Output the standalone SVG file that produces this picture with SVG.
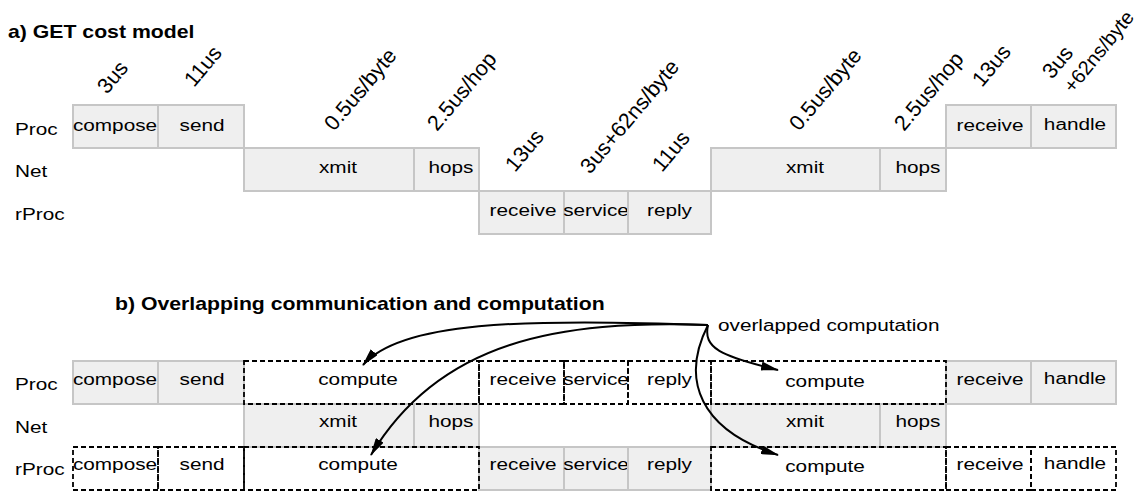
<svg xmlns="http://www.w3.org/2000/svg" width="1140" height="491" viewBox="0 0 1140 491">
<style>
.box{fill:#efefef;stroke:#c6c6c6;stroke-width:2}
.dash{fill:none;stroke:#000;stroke-width:1.8;stroke-dasharray:5,3}
text{font-family:"Liberation Sans",Arial,Helvetica,sans-serif;fill:#000}
.t{font-size:17.3px;text-anchor:middle}
.l{font-size:17.3px;text-anchor:start}
.title{font-size:17.7px;font-weight:bold;text-anchor:start}
.r{font-size:21.5px;text-anchor:start}
.conn{fill:none;stroke:#000;stroke-width:2;marker-end:url(#ah)}
</style>
<defs>
<marker id="ah" viewBox="0 0 18 9" refX="17" refY="4.5" markerWidth="18" markerHeight="9" markerUnits="userSpaceOnUse" orient="auto">
<path d="M0,0 L18,4.5 L0,9 Z" fill="#000"/>
</marker>
</defs>

<!-- Part a -->
<text class="title" transform="translate(8,37.5) scale(1.2,1)">a) GET cost model</text>
<text class="l" transform="translate(15,135) scale(1.2,1)">Proc</text>
<text class="l" transform="translate(15,177) scale(1.2,1)">Net</text>
<text class="l" transform="translate(15,220) scale(1.2,1)">rProc</text>

<g id="a-labels">
<text class="r" transform="translate(107,95) rotate(-50)">3us</text>
<text class="r" transform="translate(194,88) rotate(-50)">11us</text>
<text class="r" transform="translate(334,132) rotate(-50)">0.5us/byte</text>
<text class="r" transform="translate(437,132) rotate(-50)">2.5us/hop</text>
<text class="r" transform="translate(515,173) rotate(-50)">13us</text>
<text class="r" transform="translate(590,175) rotate(-50)">3us+62ns/byte</text>
<text class="r" transform="translate(662,173) rotate(-50)">11us</text>
<text class="r" transform="translate(799,132) rotate(-50)">0.5us/byte</text>
<text class="r" transform="translate(904,132) rotate(-50)">2.5us/hop</text>
<text class="r" transform="translate(982,88) rotate(-50)">13us</text>
<text class="r" transform="translate(1052,80) rotate(-50)">3us</text>
<text class="r" style="font-size:20px" transform="translate(1073,94) rotate(-51)">+62ns/byte</text>
</g>

<g id="a-proc-compose"><rect class="box" x="73" y="105" width="85" height="43"/><text class="t" transform="translate(115,131) scale(1.2,1)">compose</text></g>
<g id="a-proc-send"><rect class="box" x="158" y="105" width="86" height="43"/><text class="t" transform="translate(202,131) scale(1.2,1)">send</text></g>
<g id="a-net-xmit"><rect class="box" x="244" y="148" width="170" height="43"/><text class="t" transform="translate(338,173) scale(1.2,1)">xmit</text></g>
<g id="a-net-hops"><rect class="box" x="414" y="148" width="65" height="43"/><text class="t" transform="translate(451,173) scale(1.2,1)">hops</text></g>
<g id="a-rproc-receive"><rect class="box" x="479" y="191" width="85" height="43"/><text class="t" transform="translate(523,216) scale(1.2,1)">receive</text></g>
<g id="a-rproc-service"><rect class="box" x="564" y="191" width="64" height="43"/><text class="t" transform="translate(596,216) scale(1.2,1)">service</text></g>
<g id="a-rproc-reply"><rect class="box" x="628" y="191" width="83" height="43"/><text class="t" transform="translate(669.5,216) scale(1.2,1)">reply</text></g>
<g id="a-net-xmit2"><rect class="box" x="711" y="148" width="169" height="43"/><text class="t" transform="translate(805,173) scale(1.2,1)">xmit</text></g>
<g id="a-net-hops2"><rect class="box" x="880" y="148" width="66" height="43"/><text class="t" transform="translate(918,173) scale(1.2,1)">hops</text></g>
<g id="a-proc-receive"><rect class="box" x="946" y="105" width="85" height="43"/><text class="t" transform="translate(990,131) scale(1.2,1)">receive</text></g>
<g id="a-proc-handle"><rect class="box" x="1031" y="105" width="85" height="43"/><text class="t" transform="translate(1075,129.5) scale(1.2,1)">handle</text></g>

<!-- Part b -->
<text class="title" transform="translate(115,310) scale(1.2,1)">b) Overlapping communication and computation</text>
<text class="l" transform="translate(15,390) scale(1.2,1)">Proc</text>
<text class="l" transform="translate(15,433) scale(1.2,1)">Net</text>
<text class="l" transform="translate(15,475) scale(1.2,1)">rProc</text>

<g id="b-proc-compose"><rect class="box" x="73" y="361" width="85" height="43"/><text class="t" transform="translate(115,385) scale(1.2,1)">compose</text></g>
<g id="b-proc-send"><rect class="box" x="158" y="361" width="86" height="43"/><text class="t" transform="translate(202,385) scale(1.2,1)">send</text></g>
<g id="b-net-xmit"><rect class="box" x="244" y="404" width="170" height="43"/><text class="t" transform="translate(338,427) scale(1.2,1)">xmit</text></g>
<g id="b-net-hops"><rect class="box" x="414" y="404" width="65" height="43"/><text class="t" transform="translate(451,427) scale(1.2,1)">hops</text></g>
<g id="b-rproc-receive"><rect class="box" x="479" y="447" width="85" height="43"/><text class="t" transform="translate(523,470) scale(1.2,1)">receive</text></g>
<g id="b-rproc-service"><rect class="box" x="564" y="447" width="64" height="43"/><text class="t" transform="translate(596,470) scale(1.2,1)">service</text></g>
<g id="b-rproc-reply"><rect class="box" x="628" y="447" width="83" height="43"/><text class="t" transform="translate(669.5,470) scale(1.2,1)">reply</text></g>
<g id="b-net-xmit2"><rect class="box" x="711" y="404" width="169" height="43"/><text class="t" transform="translate(805,427) scale(1.2,1)">xmit</text></g>
<g id="b-net-hops2"><rect class="box" x="880" y="404" width="66" height="43"/><text class="t" transform="translate(918,427) scale(1.2,1)">hops</text></g>
<g id="b-proc-receive"><rect class="box" x="946" y="361" width="85" height="43"/><text class="t" transform="translate(990,385) scale(1.2,1)">receive</text></g>
<g id="b-proc-handle"><rect class="box" x="1031" y="361" width="85" height="43"/><text class="t" transform="translate(1075,383.5) scale(1.2,1)">handle</text></g>

<g id="b-proc-compute"><rect class="dash" x="244" y="361" width="235" height="43"/><text class="t" transform="translate(358,385) scale(1.2,1)">compute</text></g>
<g id="b-proc-receive-o"><rect class="dash" x="479" y="361" width="85" height="43"/><text class="t" transform="translate(523,385) scale(1.2,1)">receive</text></g>
<g id="b-proc-service-o"><rect class="dash" x="564" y="361" width="64" height="43"/><text class="t" transform="translate(596,385) scale(1.2,1)">service</text></g>
<g id="b-proc-reply-o"><rect class="dash" x="628" y="361" width="83" height="43"/><text class="t" transform="translate(669.5,385) scale(1.2,1)">reply</text></g>
<g id="b-proc-compute2"><rect class="dash" x="711" y="361" width="235" height="43"/><text class="t" transform="translate(825,387) scale(1.2,1)">compute</text></g>

<g id="b-rproc-compose"><rect class="dash" x="73" y="447" width="85" height="43"/><text class="t" transform="translate(115,470) scale(1.2,1)">compose</text></g>
<g id="b-rproc-send"><rect class="dash" x="158" y="447" width="86" height="43"/><text class="t" transform="translate(202,470) scale(1.2,1)">send</text></g>
<g id="b-rproc-compute"><rect class="dash" x="244" y="447" width="235" height="43"/><text class="t" transform="translate(358,470) scale(1.2,1)">compute</text></g>
<g id="b-rproc-compute2"><rect class="dash" x="711" y="447" width="235" height="43"/><text class="t" transform="translate(825,472) scale(1.2,1)">compute</text></g>
<g id="b-rproc-receive-o"><rect class="dash" x="946" y="447" width="85" height="43"/><text class="t" transform="translate(990,470) scale(1.2,1)">receive</text></g>
<g id="b-rproc-handle-o"><rect class="dash" x="1031" y="447" width="85" height="43"/><text class="t" transform="translate(1075,468.5) scale(1.2,1)">handle</text></g>

<g id="note"><text class="l" transform="translate(718,330.5) scale(1.2,1)">overlapped computation</text></g>

<g id="connectors">
<path class="conn" d="M708,325 C520,318 400,322 363,365"/>
<path class="conn" d="M708,325 C560,320 440,340 371,455"/>
<path class="conn" d="M708,325 C703,348 720,356 778,370"/>
<path class="conn" d="M708,325 C680,380 700,430 778,455"/>
</g>
</svg>
